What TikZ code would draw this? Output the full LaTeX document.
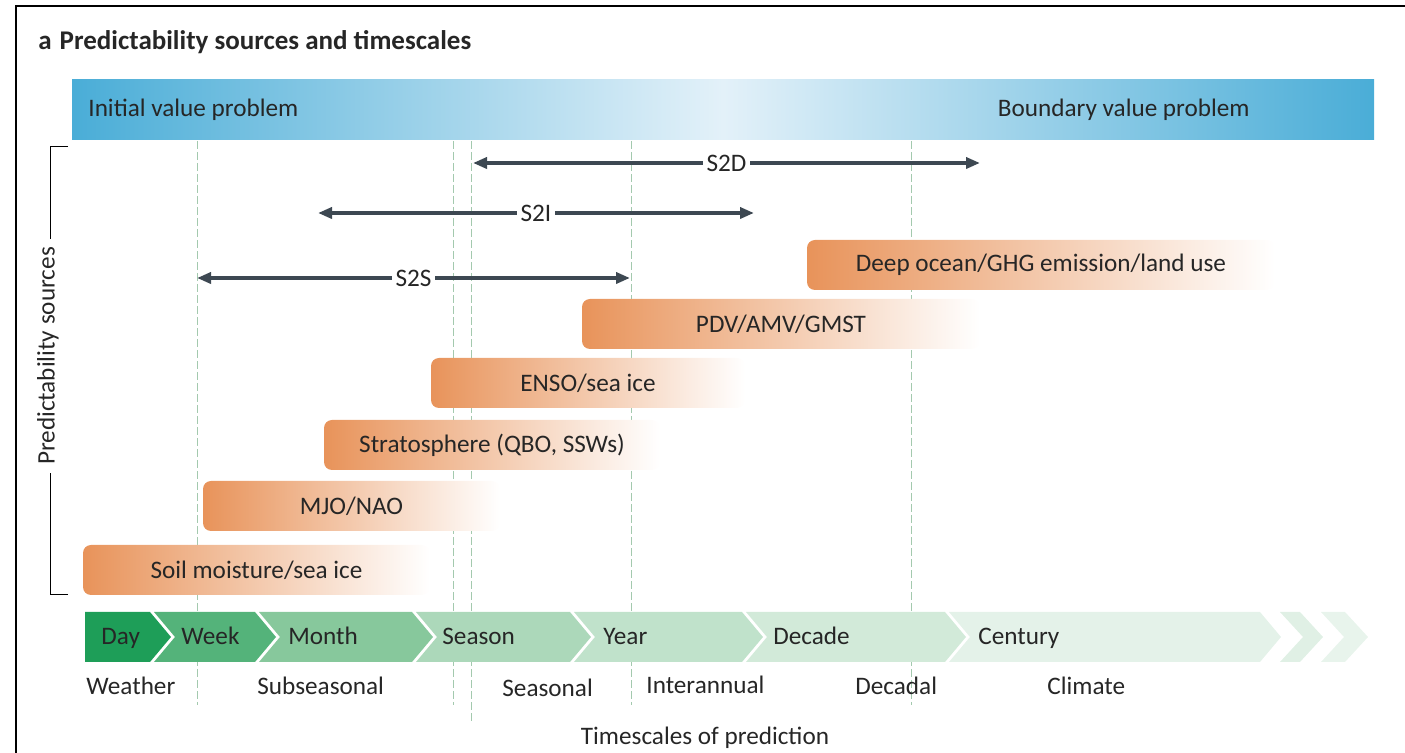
\documentclass[tikz,border=0pt]{standalone}
\usepackage{fontspec}
\setmainfont{Carlito}
\usetikzlibrary{arrows.meta}

\definecolor{txt}{HTML}{262626}
\definecolor{arr}{HTML}{3D4852}
\definecolor{blueend}{HTML}{4AADD7}
\definecolor{bluemid}{HTML}{E3F1F9}
\definecolor{srcorange}{HTML}{E8935A}
\definecolor{guidegreen}{HTML}{A3C9AE}
\definecolor{g1}{RGB}{30,158,88}
\definecolor{g2}{RGB}{84,179,122}
\definecolor{g3}{RGB}{135,200,156}
\definecolor{g4}{RGB}{172,216,186}
\definecolor{g5}{RGB}{192,226,203}
\definecolor{g6}{RGB}{210,234,217}
\definecolor{g7}{RGB}{228,242,233}
\definecolor{g8}{RGB}{224,240,229}
\definecolor{g9}{RGB}{232,244,236}

\begin{document}
\begin{tikzpicture}
  [x=0.5pt,y=-0.5pt,
   every node/.style={text=txt,inner sep=0pt,font=\fontsize{12.6}{14}\selectfont},
   srcbar/.style={rounded corners=4pt,left color=srcorange,right color=white,
     minimum height=25pt},
   span/.style={arr,line width=1.8pt,
     {Triangle[length=7pt,width=5.5pt]}-{Triangle[length=7pt,width=5.5pt]}},
   spanlab/.style={fill=white,inner sep=2pt},
   guide/.style={guidegreen,line width=0.4pt,dash pattern=on 4pt off 1.5pt}]
  \useasboundingbox (0,0) rectangle (1405,753);

  % frame and title
  \draw[line width=1pt] (16,753) -- (16,6) -- (1405,6);
  \node[anchor=base west,font=\fontsize{13.5}{15}\selectfont\bfseries] (title) at (38,50)
    {a\hspace{4pt}Predictability sources and timescales};

  % initial / boundary value problem
  \node[left color=blueend,right color=blueend,middle color=bluemid,
    minimum width=651pt,minimum height=30pt] (ivpbar) at (723,110) {};
  \node[anchor=base west] (initial) at (88,117) {Initial value problem};
  \node[anchor=base east] (boundary) at (1250,117) {Boundary value problem};

  % guide lines
  \foreach \x in {197,453,631,911}
    \draw[guide] (\x,141) -- (\x,705);
  \draw[guide] (471,141) -- (471,722);

  % prediction spans
  \coordinate (s2dL) at (473,163);  \coordinate (s2dR) at (980,163);
  \coordinate (s2iL) at (318,213);  \coordinate (s2iR) at (754,213);
  \coordinate (s2sL) at (197,278);  \coordinate (s2sR) at (630,278);
  \draw[span] (s2dL) -- (s2dR) node[midway,spanlab] (s2d) {S2D};
  \draw[span] (s2iL) -- (s2iR) node[midway,spanlab] (s2i) {S2I};
  \draw[span] (s2sL) -- (s2sR) node[midway,spanlab] (s2s) {S2S};

  % predictability sources
  \node[srcbar,minimum width=234pt]   (deep)  at (1041,265)  {Deep ocean/GHG emission/land use};
  \node[srcbar,minimum width=199pt]   (pdv)   at (781,324)   {PDV/AMV/GMST};
  \node[srcbar,minimum width=157pt]   (enso)  at (588,383)   {ENSO/sea ice};
  \node[srcbar,minimum width=168pt]   (strat) at (492,445)   {Stratosphere (QBO, SSWs)};
  \node[srcbar,minimum width=148.5pt] (mjo)   at (351.5,506) {MJO/NAO};
  \node[srcbar,minimum width=173.5pt] (soil)  at (256.5,570) {Soil moisture/sea ice};

  % bracket
  \node[rotate=90,inner sep=4pt] (srclab) at (48,356) {Predictability sources};
  \coordinate (btop) at (50,147);
  \coordinate (bbot) at (50,595);
  \draw[line width=0.5pt] (68,147) -- (btop) -- (btop |- srclab.east);
  \draw[line width=0.5pt] (68,595) -- (bbot) -- (bbot |- srclab.west);

  % timescale chevrons
  \fill[g1] (85,612) -- (150,612) -- (171,637) -- (150,662) -- (85,662) -- cycle;
  \foreach \l/\r/\c in {154/255/g2, 259/412/g3, 416/570/g4, 574/742/g5, 746/945/g6, 949/1260/g7}
    \fill[\c] (\l,612) -- (\r,612) -- (\r+21,637) -- (\r,662) -- (\l,662) -- (\l+21,637) -- cycle;
  \fill[g8] (1280,612) -- (1300,612) -- (1323,637) -- (1300,662) -- (1280,662) -- (1303,637) -- cycle;
  \fill[g9] (1321,612) -- (1345,612) -- (1368,637) -- (1345,662) -- (1321,662) -- (1344,637) -- cycle;

  \node[anchor=base west] (day)     at (101,645) {Day};
  \node[anchor=base west] (week)    at (181,645) {Week};
  \node[anchor=base west] (month)   at (288,645) {Month};
  \node[anchor=base west] (season)  at (442,645) {Season};
  \node[anchor=base west] (year)    at (603,645) {Year};
  \node[anchor=base west] (decade)  at (773,645) {Decade};
  \node[anchor=base west] (century) at (978,645) {Century};

  % prediction types
  \node[anchor=base west] (weather)     at (86,695)   {Weather};
  \node[anchor=base west] (subseasonal) at (257,695)  {Subseasonal};
  \node[anchor=base west] (seasonal)    at (502,697)  {Seasonal};
  \node[anchor=base west] (interannual) at (646,694)  {Interannual};
  \node[anchor=base west] (decadal)     at (855,695)  {Decadal};
  \node[anchor=base west] (climate)     at (1047,695) {Climate};
  \node[anchor=base] (timescales) at (705,745) {Timescales of prediction};

\end{tikzpicture}
\end{document}
